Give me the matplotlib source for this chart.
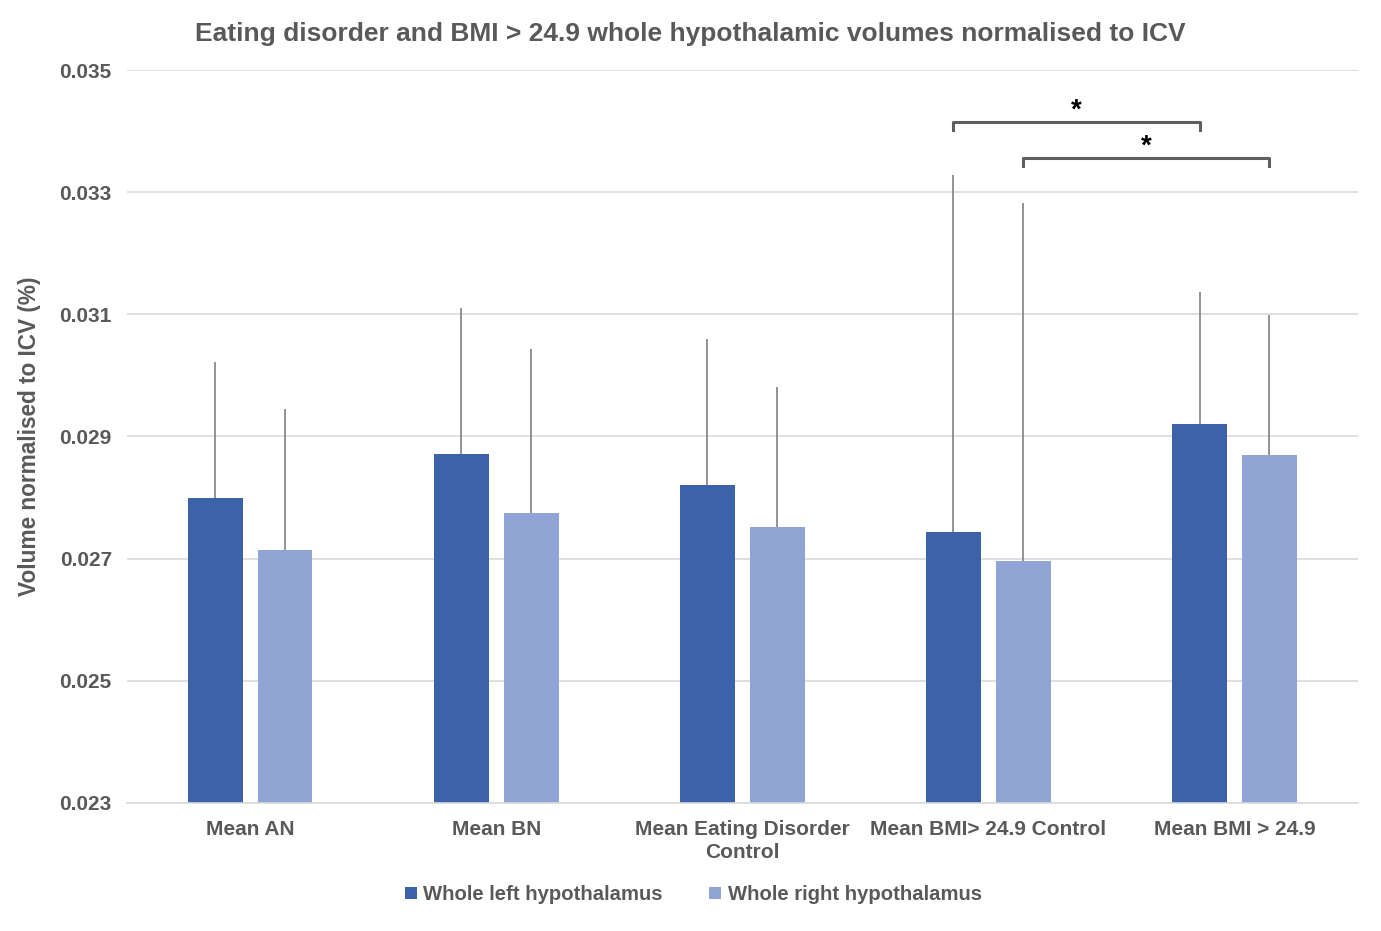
import numpy as np
import matplotlib.pyplot as plt

plt.rcParams['font.family'] = ['Liberation Sans', 'DejaVu Sans']

# data
groups = ['Mean AN', 'Mean BN', 'Mean Eating Disorder\nControl',
          'Mean BMI> 24.9 Control', 'Mean BMI > 24.9']
left_mean = [0.02799, 0.02871, 0.02821, 0.02744, 0.02920]
left_err = [0.00223, 0.00239, 0.00239, 0.00584, 0.00216]
right_mean = [0.02714, 0.02775, 0.02752, 0.02696, 0.02870]
right_err = [0.00231, 0.00268, 0.00229, 0.00586, 0.00229]
series_names = ['Whole left hypothalamus', 'Whole right hypothalamus']

# significance brackets: (group a, group b, bar side offset sign, y level)
brackets = [(3, 4, -1, 0.03415), (3, 4, 1, 0.03356)]

dark = '#3C63AA'
light = '#91A5D5'
txt = '#595959'

fig = plt.figure(figsize=(13.81, 9.31), dpi=100)
ax = fig.add_axes([0.092, 0.1375, 0.891, 0.7873])

x = np.arange(len(groups))
w = 0.223
off = 0.142
ax.bar(x - off, left_mean, w, color=dark, label=series_names[0], zorder=2)
ax.bar(x + off, right_mean, w, color=light, label=series_names[1], zorder=2)
ax.errorbar(x - off, left_mean, yerr=[np.zeros(5), left_err], fmt='none',
            ecolor='#8a8a8a', elinewidth=1.3, capsize=0, zorder=3)
ax.errorbar(x + off, right_mean, yerr=[np.zeros(5), right_err], fmt='none',
            ecolor='#8a8a8a', elinewidth=1.3, capsize=0, zorder=3)

for a, b, s, yl in brackets:
    xa = a + s * off
    xb = b + s * off
    ax.plot([xa, xa, xb, xb], [yl - 0.00013, yl, yl, yl - 0.00013],
            color='#5f5f5f', lw=2.2, clip_on=False, zorder=4)
    ax.text((xa + xb) / 2, yl - 0.00002, '*', ha='center', va='bottom',
            fontsize=20, fontweight='bold', color='black')

ax.set_xlim(-0.5, 4.5)
ax.set_ylim(0.023, 0.035)
ax.set_yticks([0.023, 0.025, 0.027, 0.029, 0.031, 0.033, 0.035])
ax.set_yticklabels(['0.023', '0.025', '0.027', '0.029', '0.031', '0.033', '0.035'])
ax.yaxis.grid(True, color='#d9d9d9', lw=1.2, zorder=0)
ax.set_axisbelow(True)
for sp in ['top', 'right', 'left']:
    ax.spines[sp].set_visible(False)
ax.spines['bottom'].set_color('#d9d9d9')
ax.spines['bottom'].set_linewidth(1.2)
ax.tick_params(axis='both', length=0, labelsize=15, colors=txt)
ax.tick_params(axis='y', pad=11)
ax.set_xticks(x)
ax.set_xticklabels(groups, fontweight='bold', linespacing=1.3)
for lab in ax.get_yticklabels():
    lab.set_fontweight('bold')
ax.tick_params(axis='x', pad=12)

ax.set_ylabel('Volume normalised to ICV (%)', fontsize=16.3, fontweight='bold',
              color=txt, labelpad=13)
fig.text(0.5, 0.964, 'Eating disorder and BMI > 24.9 whole hypothalamic volumes normalised to ICV',
         ha='center', va='center', fontsize=19, fontweight='bold', color=txt)

leg = fig.legend(loc='center', bbox_to_anchor=(0.502, 0.039), ncol=2, frameon=False,
                 handlelength=0.6, handleheight=0.6, handletextpad=0.3,
                 columnspacing=2.3, prop={'size': 14.6, 'weight': 'bold'})
for t in leg.get_texts():
    t.set_color(txt)

fig.savefig('out.png', dpi=100)
